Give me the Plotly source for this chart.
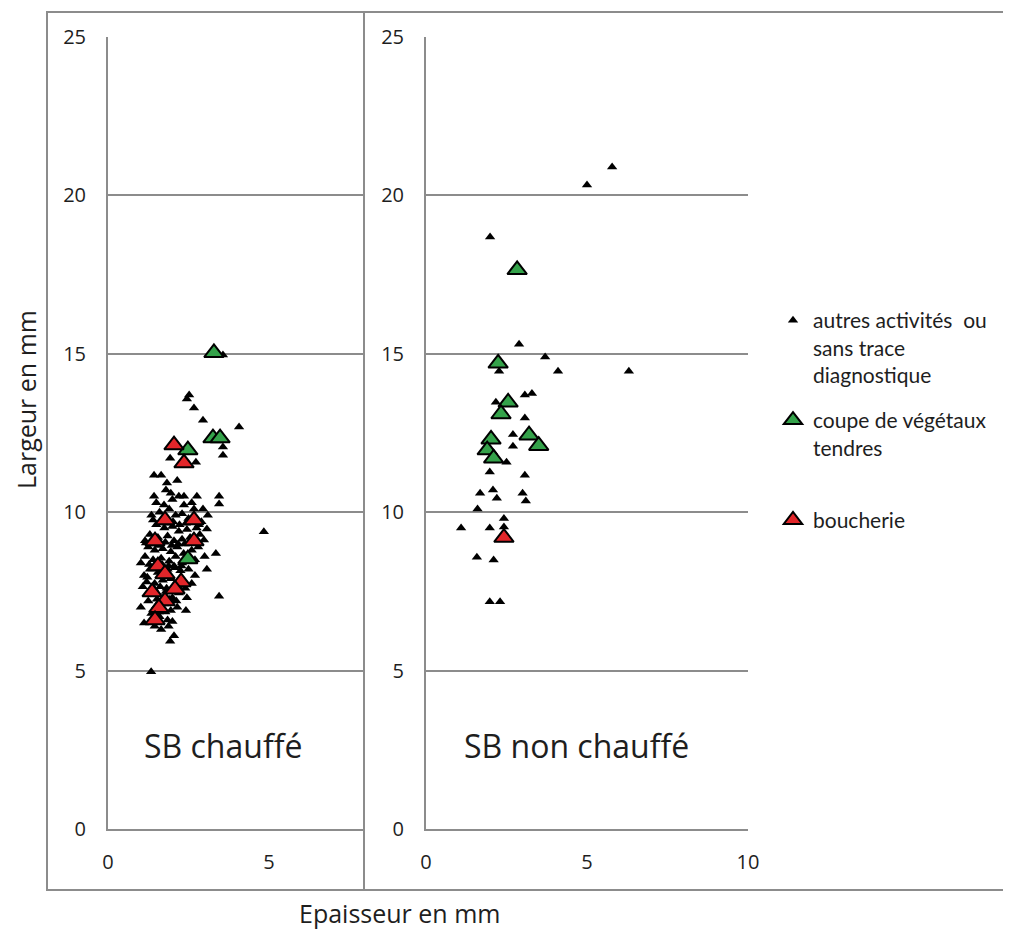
import plotly.graph_objects as go

W, H = 1011, 935

# ---------------- data ----------------
# SB chauffé (left panel)
left_other_x = [3.57, 2.52, 2.45, 2.67, 2.95, 4.07, 3.57, 3.57, 1.93, 2.73, 1.43, 1.65, 1.83, 1.80, 1.43, 2.20, 2.36, 2.76, 3.45, 3.45,
                1.74, 2.36, 2.67, 2.95, 4.84, 3.07, 1.18, 2.98, 3.35, 1.02, 3.07, 1.12, 3.45, 1.02, 2.42, 1.12, 2.05, 1.93, 1.34,
                1.60, 1.90, 2.10, 2.30, 2.50, 1.50, 1.75, 2.00, 2.20, 2.45, 2.75, 1.30, 1.55, 1.85, 2.05, 2.30, 2.55, 2.85,
                1.25, 1.45, 1.70, 1.95, 2.15, 2.35, 2.60, 2.80, 1.15, 1.40, 1.65, 1.90, 2.10, 2.30, 2.55, 1.30, 1.55, 1.85,
                2.05, 2.25, 2.50, 2.70, 1.20, 1.45, 1.70, 1.95, 2.15, 2.40, 2.60, 1.30, 1.55, 1.80, 2.00, 2.20, 2.45, 1.25,
                1.50, 1.75, 1.95, 2.15, 1.35, 1.60, 1.85, 1.45, 1.65, 2.00, 1.50, 2.00, 2.60, 1.95, 2.15, 1.35, 2.90, 3.10,
                1.15, 2.70, 3.00,
                1.40, 1.62, 1.82, 2.02, 2.22, 2.42, 1.38, 1.58, 1.78, 1.98, 2.18, 2.38, 1.28, 1.48, 1.68, 1.88, 2.08, 2.28,
                1.42, 1.62, 1.82, 2.02, 2.22, 1.52, 1.72, 1.92, 2.12, 1.58, 1.78, 1.88, 2.62, 2.82, 1.22, 1.08]
left_other_y = [14.96, 13.70, 13.57, 13.29, 12.90, 12.69, 12.06, 11.80, 11.70, 11.58, 11.17, 11.17, 10.92, 10.70, 10.50, 10.50, 10.50, 10.50, 10.50, 10.26,
                10.23, 10.23, 10.10, 10.10, 9.38, 9.47, 9.03, 9.12, 8.70, 8.40, 8.20, 8.00, 7.35, 7.00, 6.90, 6.50, 6.10, 5.93, 4.96,
                10.00, 10.10, 9.90, 9.95, 9.80, 9.60, 9.50, 9.55, 9.40, 9.45, 9.50, 9.30, 9.20, 9.25, 9.10, 9.15, 9.20, 9.30,
                8.90, 8.80, 8.85, 8.75, 8.90, 8.70, 8.80, 8.90, 8.60, 8.50, 8.55, 8.45, 8.60, 8.40, 8.50, 8.20, 8.10, 8.20,
                8.30, 8.15, 8.20, 8.00, 7.80, 7.75, 7.85, 7.90, 7.70, 7.60, 7.75, 7.50, 7.40, 7.50, 7.30, 7.45, 7.30, 7.20,
                7.05, 7.10, 6.90, 7.00, 6.80, 6.70, 6.60, 6.40, 6.30, 6.55, 10.30, 10.40, 10.30, 10.60, 11.00, 9.90, 9.70, 9.90,
                9.10, 8.50, 8.60,
                9.75, 9.70, 9.65, 9.70, 9.60, 9.65, 9.00, 8.95, 9.05, 8.95, 9.00, 9.00, 8.35, 8.30, 8.35, 8.30, 8.25, 8.30,
                7.60, 7.65, 7.60, 7.55, 7.60, 7.25, 7.30, 7.25, 7.20, 6.85, 6.85, 6.40, 9.05, 9.60, 7.95, 7.65]
left_veg_x = [3.29, 3.26, 3.48, 2.48, 2.48]
left_veg_y = [15.03, 12.34, 12.34, 11.96, 8.52]
left_bouch_x = [2.05, 2.36, 1.77, 2.67, 1.46, 2.67, 1.55, 1.77, 2.27, 2.08, 1.37, 1.77, 1.58, 1.46]
left_bouch_y = [12.12, 11.55, 9.75, 9.75, 9.09, 9.09, 8.30, 8.05, 7.80, 7.57, 7.48, 7.20, 6.98, 6.60]

# SB non chauffé (right panel)
right_other_x = [5.00, 5.78, 1.99, 2.89, 3.70, 4.10, 6.30, 2.27, 3.07, 3.29, 2.17, 3.07, 2.70, 2.70, 2.50, 1.98, 3.07,
                 1.68, 2.08, 2.20, 3.00, 3.10, 1.60, 2.42, 2.42, 1.09, 1.98, 1.58, 2.10, 1.98, 2.30]
right_other_y = [20.33, 20.90, 18.69, 15.30, 14.90, 14.45, 14.45, 14.45, 13.70, 13.75, 13.47, 12.97, 12.45, 12.08, 11.58, 11.27, 11.17,
                 10.60, 10.70, 10.44, 10.60, 10.35, 10.10, 9.80, 9.53, 9.50, 9.50, 8.58, 8.49, 7.17, 7.17]
right_veg_x = [2.83, 2.24, 2.55, 2.33, 3.20, 3.50, 2.02, 1.90, 2.10]
right_veg_y = [17.65, 14.70, 13.47, 13.10, 12.43, 12.10, 12.30, 11.96, 11.70]
right_bouch_x = [2.42]
right_bouch_y = [9.20]

series_names = ["autres activités  ou<br>sans trace<br>diagnostique",
                "coupe de végétaux<br>tendres<br> ",
                "boucherie"]
panel_titles = ["SB chauffé", "SB non chauffé"]
y_ticks = [0, 5, 10, 15, 20, 25]

# ---------------- styling ----------------
GREY = "#8c8c8c"
TFONT = "Open Sans"
LFONT = "Lato"
GREEN = "#34A24A"
RED = "#E2262A"
TXT = "#1e1e1e"
OX, OY = 7, 8  # page body offset


def px_x(p):
    return (p - OX) / W


def px_y(p):
    return 1 - (p - OY) / H


fig = go.Figure()

styles = [
    dict(symbol="triangle-up", size=9, color="black", line=dict(width=0)),
    dict(symbol="triangle-up", size=17, color=GREEN, line=dict(width=2, color="black")),
    dict(symbol="triangle-up", size=17, color=RED, line=dict(width=2, color="black")),
]

panels = [
    ("x", "y", [(left_other_x, left_other_y), (left_veg_x, left_veg_y), (left_bouch_x, left_bouch_y)], True),
    ("x2", "y2", [(right_other_x, right_other_y), (right_veg_x, right_veg_y), (right_bouch_x, right_bouch_y)], False),
]
for k in range(3):
    for xa, ya, data, show in panels:
        xs, ys = data[k]
        fig.add_trace(go.Scatter(
            x=xs, y=ys, mode="markers", xaxis=xa, yaxis=ya,
            name=series_names[k], legendgroup=f"g{k}", showlegend=show,
            marker=styles[k], hoverinfo="x+y",
        ))

axis_common = dict(showline=True, linecolor=GREY, linewidth=2, zeroline=False, automargin=False,
                   tickfont=dict(family=TFONT, size=20, color=TXT), ticks="")

fig.update_layout(
    width=W, height=H, autosize=False,
    margin=dict(l=0, r=0, t=0, b=0, pad=0),
    paper_bgcolor="white", plot_bgcolor="white",
    font=dict(family=TFONT, color=TXT),
    xaxis=dict(domain=[px_x(107), px_x(363)], range=[0, 7.95], tickvals=[0, 5], showgrid=False,
               ticklabelstandoff=14, anchor="y", **axis_common),
    yaxis=dict(domain=[px_y(829), px_y(37)], range=[0, 25], tickvals=y_ticks, showgrid=True,
               gridcolor=GREY, gridwidth=2, ticklabelstandoff=16, anchor="x", **axis_common),
    xaxis2=dict(domain=[px_x(425), px_x(747)], range=[0, 10], tickvals=[0, 5, 10], showgrid=False,
                ticklabelstandoff=14, anchor="y2", **axis_common),
    yaxis2=dict(domain=[px_y(829), px_y(37)], range=[0, 25], tickvals=y_ticks, showgrid=True,
                gridcolor=GREY, gridwidth=2, ticklabelstandoff=16, anchor="x2", **axis_common),
    legend=dict(x=px_x(772), y=px_y(300), xanchor="left", yanchor="top",
                font=dict(family=LFONT, size=21, color=TXT), valign="top",
                itemsizing="trace", bgcolor="rgba(0,0,0,0)", tracegroupgap=15,
                itemwidth=30),
    showlegend=True,
)

# frame
fig.add_shape(type="rect", xref="paper", yref="paper", x0=px_x(46), x1=1.05, y0=px_y(890), y1=px_y(12),
              line=dict(color=GREY, width=2), layer="below")
fig.add_shape(type="line", xref="paper", yref="paper", x0=px_x(363), x1=px_x(363), y0=px_y(890), y1=px_y(12),
              line=dict(color=GREY, width=2), layer="below")

# titles
ann = dict(xref="paper", yref="paper", showarrow=False, xanchor="center", yanchor="middle")
fig.add_annotation(text="Largeur en mm", x=px_x(25), y=px_y(400), textangle=-90,
                   font=dict(family=TFONT, size=25, color=TXT), **ann)
fig.add_annotation(text="Epaisseur en mm", x=px_x(398), y=px_y(913),
                   font=dict(family=TFONT, size=25, color=TXT), **ann)
fig.add_annotation(text=panel_titles[0], x=px_x(222), y=px_y(745),
                   font=dict(family=TFONT, size=32, color=TXT), **ann)
fig.add_annotation(text=panel_titles[1], x=px_x(575), y=px_y(745),
                   font=dict(family=TFONT, size=32, color=TXT), **ann)

fig.write_html("out.html")
